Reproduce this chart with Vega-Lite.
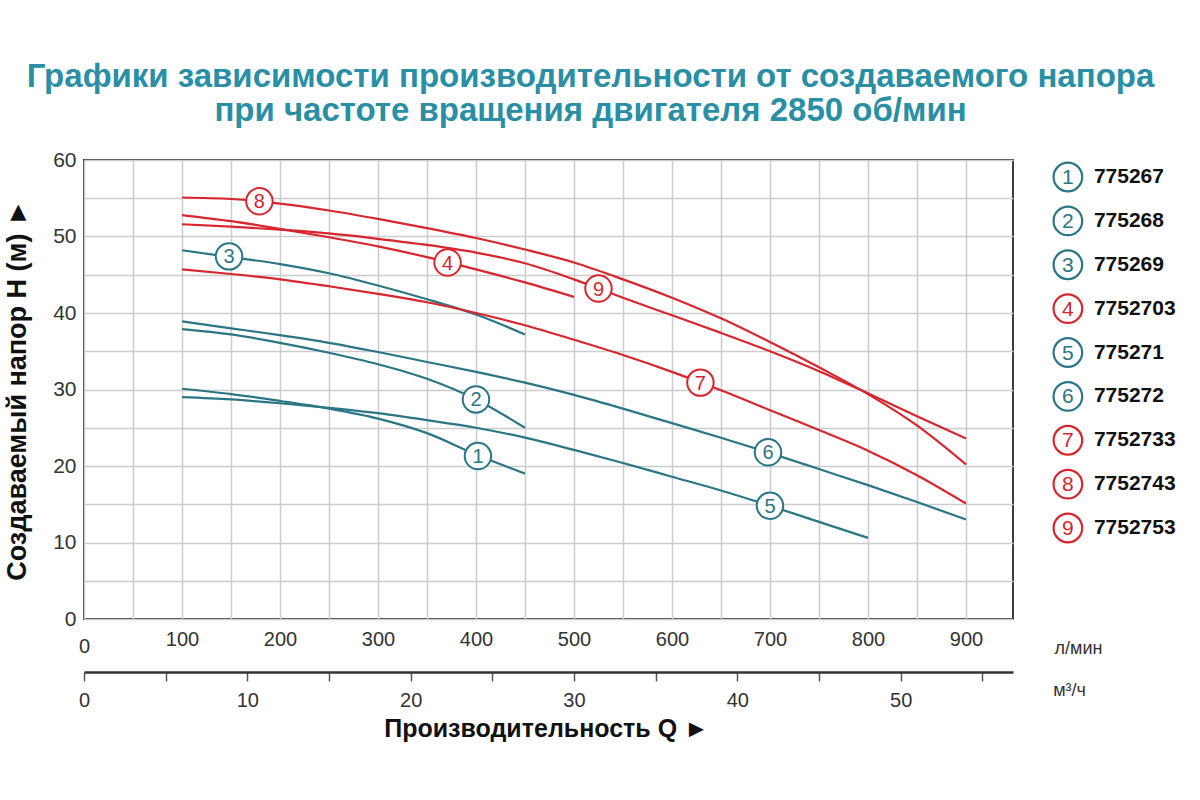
{
  "$schema": "https://vega.github.io/schema/vega-lite/v6.json",
  "width": 929,
  "height": 459,
  "autosize": {"type": "none"},
  "padding": {"left": 84, "top": 160, "right": 187, "bottom": 181},
  "background": "white",
  "title": {
    "text": ["Графики зависимости производительности от создаваемого напора", "при частоте вращения двигателя 2850 об/мин"],
    "anchor": "middle",
    "dx": 42,
    "offset": 21,
    "font": "Liberation Sans",
    "fontSize": 33,
    "fontWeight": "bold",
    "color": "#2a8fa5",
    "lineHeight": 34
  },
  "config": {
    "view": {"stroke": "#3c3c3c", "strokeWidth": 2},
    "axis": {
      "labelFont": "Liberation Sans",
      "titleFont": "Liberation Sans",
      "labelColor": "#333333",
      "titleColor": "#111111",
      "gridColor": "#cccccc",
      "gridWidth": 1.5,
      "domain": false,
      "ticks": false,
      "labelFlush": false
    }
  },
  "datasets": {
    "curves": [
      {"n": "1", "q": 100, "h": 30.1}, {"n": "1", "q": 150, "h": 29.4}, {"n": "1", "q": 200, "h": 28.5}, {"n": "1", "q": 250, "h": 27.5}, {"n": "1", "q": 300, "h": 26.2}, {"n": "1", "q": 350, "h": 24.3}, {"n": "1", "q": 400, "h": 21.5}, {"n": "1", "q": 450, "h": 19.0},
      {"n": "2", "q": 100, "h": 37.9}, {"n": "2", "q": 150, "h": 37.2}, {"n": "2", "q": 200, "h": 36.1}, {"n": "2", "q": 250, "h": 34.8}, {"n": "2", "q": 300, "h": 33.3}, {"n": "2", "q": 350, "h": 31.4}, {"n": "2", "q": 400, "h": 28.7}, {"n": "2", "q": 450, "h": 25.0},
      {"n": "3", "q": 100, "h": 48.2}, {"n": "3", "q": 150, "h": 47.3}, {"n": "3", "q": 200, "h": 46.4}, {"n": "3", "q": 250, "h": 45.2}, {"n": "3", "q": 300, "h": 43.6}, {"n": "3", "q": 350, "h": 41.8}, {"n": "3", "q": 400, "h": 39.8}, {"n": "3", "q": 450, "h": 37.2},
      {"n": "4", "q": 100, "h": 52.8}, {"n": "4", "q": 150, "h": 52.0}, {"n": "4", "q": 200, "h": 51.0}, {"n": "4", "q": 250, "h": 49.9}, {"n": "4", "q": 300, "h": 48.7}, {"n": "4", "q": 350, "h": 47.3}, {"n": "4", "q": 400, "h": 45.7}, {"n": "4", "q": 450, "h": 44.0}, {"n": "4", "q": 500, "h": 42.1},
      {"n": "5", "q": 100, "h": 29.0}, {"n": "5", "q": 150, "h": 28.7}, {"n": "5", "q": 200, "h": 28.2}, {"n": "5", "q": 250, "h": 27.6}, {"n": "5", "q": 300, "h": 26.9}, {"n": "5", "q": 350, "h": 26.0}, {"n": "5", "q": 400, "h": 25.0}, {"n": "5", "q": 450, "h": 23.7}, {"n": "5", "q": 500, "h": 22.1}, {"n": "5", "q": 550, "h": 20.4}, {"n": "5", "q": 600, "h": 18.6}, {"n": "5", "q": 650, "h": 16.8}, {"n": "5", "q": 700, "h": 14.8}, {"n": "5", "q": 750, "h": 12.7}, {"n": "5", "q": 800, "h": 10.6},
      {"n": "6", "q": 100, "h": 38.9}, {"n": "6", "q": 150, "h": 38.0}, {"n": "6", "q": 200, "h": 37.1}, {"n": "6", "q": 250, "h": 36.1}, {"n": "6", "q": 300, "h": 34.9}, {"n": "6", "q": 350, "h": 33.6}, {"n": "6", "q": 400, "h": 32.3}, {"n": "6", "q": 450, "h": 30.9}, {"n": "6", "q": 500, "h": 29.3}, {"n": "6", "q": 550, "h": 27.5}, {"n": "6", "q": 600, "h": 25.6}, {"n": "6", "q": 650, "h": 23.7}, {"n": "6", "q": 700, "h": 21.7}, {"n": "6", "q": 750, "h": 19.6}, {"n": "6", "q": 800, "h": 17.5}, {"n": "6", "q": 850, "h": 15.3}, {"n": "6", "q": 900, "h": 13.0},
      {"n": "7", "q": 100, "h": 45.7}, {"n": "7", "q": 150, "h": 45.1}, {"n": "7", "q": 200, "h": 44.4}, {"n": "7", "q": 250, "h": 43.5}, {"n": "7", "q": 300, "h": 42.5}, {"n": "7", "q": 350, "h": 41.4}, {"n": "7", "q": 400, "h": 40.0}, {"n": "7", "q": 450, "h": 38.4}, {"n": "7", "q": 500, "h": 36.5}, {"n": "7", "q": 550, "h": 34.5}, {"n": "7", "q": 600, "h": 32.3}, {"n": "7", "q": 650, "h": 29.9}, {"n": "7", "q": 700, "h": 27.3}, {"n": "7", "q": 750, "h": 24.7}, {"n": "7", "q": 800, "h": 22.0}, {"n": "7", "q": 850, "h": 18.8}, {"n": "7", "q": 900, "h": 15.1},
      {"n": "8", "q": 100, "h": 55.1}, {"n": "8", "q": 150, "h": 54.9}, {"n": "8", "q": 200, "h": 54.3}, {"n": "8", "q": 250, "h": 53.4}, {"n": "8", "q": 300, "h": 52.3}, {"n": "8", "q": 350, "h": 51.1}, {"n": "8", "q": 400, "h": 49.8}, {"n": "8", "q": 450, "h": 48.3}, {"n": "8", "q": 500, "h": 46.6}, {"n": "8", "q": 550, "h": 44.4}, {"n": "8", "q": 600, "h": 42.0}, {"n": "8", "q": 650, "h": 39.3}, {"n": "8", "q": 700, "h": 36.2}, {"n": "8", "q": 750, "h": 32.9}, {"n": "8", "q": 800, "h": 29.4}, {"n": "8", "q": 850, "h": 25.3}, {"n": "8", "q": 900, "h": 20.2},
      {"n": "9", "q": 100, "h": 51.6}, {"n": "9", "q": 150, "h": 51.3}, {"n": "9", "q": 200, "h": 50.9}, {"n": "9", "q": 250, "h": 50.4}, {"n": "9", "q": 300, "h": 49.7}, {"n": "9", "q": 350, "h": 48.9}, {"n": "9", "q": 400, "h": 47.9}, {"n": "9", "q": 450, "h": 46.5}, {"n": "9", "q": 500, "h": 44.4}, {"n": "9", "q": 550, "h": 42.0}, {"n": "9", "q": 600, "h": 39.7}, {"n": "9", "q": 650, "h": 37.4}, {"n": "9", "q": 700, "h": 35.0}, {"n": "9", "q": 750, "h": 32.4}, {"n": "9", "q": 800, "h": 29.5}, {"n": "9", "q": 850, "h": 26.5}, {"n": "9", "q": 900, "h": 23.6}
    ],
    "labels": [
      {"n": "1", "q": 402, "h": 21.3},
      {"n": "2", "q": 400, "h": 28.7},
      {"n": "3", "q": 148, "h": 47.4},
      {"n": "4", "q": 371, "h": 46.6},
      {"n": "5", "q": 700, "h": 14.8},
      {"n": "6", "q": 698, "h": 21.8},
      {"n": "7", "q": 629, "h": 30.9},
      {"n": "8", "q": 179, "h": 54.6},
      {"n": "9", "q": 525, "h": 43.2}
    ],
    "legend": [
      {"n": "1", "code": "775267"},
      {"n": "2", "code": "775268"},
      {"n": "3", "code": "775269"},
      {"n": "4", "code": "7752703"},
      {"n": "5", "code": "775271"},
      {"n": "6", "code": "775272"},
      {"n": "7", "code": "7752733"},
      {"n": "8", "code": "7752743"},
      {"n": "9", "code": "7752753"}
    ],
    "m3h": [{"m3h": 0}, {"m3h": 56.88}]
  },
  "resolve": {"scale": {"x": "independent", "y": "independent"}},
  "layer": [
    {
      "encoding": {
        "x": {
          "field": "q", "type": "quantitative",
          "scale": {"domain": [0, 948], "nice": false, "zero": false},
          "axis": {
            "orient": "bottom",
            "values": [0, 50, 100, 150, 200, 250, 300, 350, 400, 450, 500, 550, 600, 650, 700, 750, 800, 850, 900],
            "labelExpr": "datum.value % 100 == 0 ? datum.label : ''",
            "labelFontSize": 20,
            "labelPadding": {"condition": {"test": "datum.value == 0", "value": 17}, "value": 10},
            "grid": true,
            "title": "л/мин",
            "titleFontSize": 18,
            "titleFontWeight": "normal",
            "titleColor": "#333333",
            "titleX": 994,
            "titleY": 29,
            "titleAlign": "center",
            "titleBaseline": "middle"
          }
        },
        "y": {
          "field": "h", "type": "quantitative",
          "scale": {"domain": [0, 60], "nice": false},
          "axis": {
            "orient": "left",
            "values": [0, 5, 10, 15, 20, 25, 30, 35, 40, 45, 50, 55, 60],
            "labelExpr": "datum.value % 10 == 0 ? datum.label : ''",
            "labelFontSize": 21,
            "labelPadding": 8,
            "grid": true,
            "title": "Создаваемый напор H (м) ►",
            "titleFontSize": 27,
            "titleFontWeight": "bold",
            "titleX": -67,
            "titleY": 229.5,
            "titleBaseline": "middle",
            "titleAlign": "center"
          }
        }
      },
      "layer": [
        {
          "data": {"name": "curves"},
          "mark": {"type": "line", "interpolate": "monotone", "strokeWidth": 2.2},
          "encoding": {
            "color": {
              "field": "n", "type": "nominal",
              "scale": {"domain": ["1", "2", "3", "4", "5", "6", "7", "8", "9"], "range": ["#2b7685", "#2b7685", "#2b7685", "#d8262e", "#2b7685", "#2b7685", "#d8262e", "#d8262e", "#d8262e"]},
              "legend": null
            }
          }
        },
        {
          "data": {"name": "labels"},
          "mark": {"type": "point", "shape": "circle", "fill": "white", "fillOpacity": 1, "opacity": 1, "size": 700, "strokeWidth": 2},
          "encoding": {
            "stroke": {
              "field": "n", "type": "nominal",
              "scale": {"domain": ["1", "2", "3", "4", "5", "6", "7", "8", "9"], "range": ["#2b7685", "#2b7685", "#2b7685", "#d8262e", "#2b7685", "#2b7685", "#d8262e", "#d8262e", "#d8262e"]},
              "legend": null
            }
          }
        },
        {
          "data": {"name": "labels"},
          "mark": {"type": "text", "font": "Liberation Sans", "fontSize": 20, "baseline": "middle", "align": "center", "dy": 1},
          "encoding": {
            "text": {"field": "n"},
            "color": {
              "field": "n", "type": "nominal",
              "scale": {"domain": ["1", "2", "3", "4", "5", "6", "7", "8", "9"], "range": ["#2b7685", "#2b7685", "#2b7685", "#d8262e", "#2b7685", "#2b7685", "#d8262e", "#d8262e", "#d8262e"]},
              "legend": null
            }
          }
        }
      ]
    },
    {
      "data": {"name": "legend"},
      "encoding": {
        "x": {"datum": 1004, "type": "quantitative", "scale": {"domain": [0, 948], "nice": false, "zero": false}, "axis": null},
        "y": {"field": "n", "type": "ordinal", "scale": {"type": "point", "range": [17, 368], "padding": 0}, "axis": null}
      },
      "layer": [
        {
          "mark": {"type": "point", "shape": "circle", "fill": "white", "fillOpacity": 1, "opacity": 1, "size": 820, "strokeWidth": 2.2},
          "encoding": {
            "stroke": {
              "field": "n", "type": "nominal",
              "scale": {"domain": ["1", "2", "3", "4", "5", "6", "7", "8", "9"], "range": ["#2b7685", "#2b7685", "#2b7685", "#d8262e", "#2b7685", "#2b7685", "#d8262e", "#d8262e", "#d8262e"]},
              "legend": null
            }
          }
        },
        {
          "mark": {"type": "text", "font": "Liberation Sans", "fontSize": 21, "baseline": "middle", "align": "center", "dy": 1},
          "encoding": {
            "text": {"field": "n"},
            "color": {
              "field": "n", "type": "nominal",
              "scale": {"domain": ["1", "2", "3", "4", "5", "6", "7", "8", "9"], "range": ["#2b7685", "#2b7685", "#2b7685", "#d8262e", "#2b7685", "#2b7685", "#d8262e", "#d8262e", "#d8262e"]},
              "legend": null
            }
          }
        },
        {
          "mark": {"type": "text", "font": "Liberation Sans", "fontSize": 21, "fontWeight": "bold", "baseline": "middle", "align": "left", "dx": 26, "color": "#111111"},
          "encoding": {"text": {"field": "code"}}
        }
      ]
    },
    {
      "data": {"name": "m3h"},
      "mark": {"type": "rule", "opacity": 0},
      "encoding": {
        "x": {
          "field": "m3h", "type": "quantitative",
          "scale": {"domain": [0, 56.88], "nice": false, "zero": false},
          "axis": {
            "orient": "bottom",
            "offset": 53,
            "values": [0, 5, 10, 15, 20, 25, 30, 35, 40, 45, 50, 55],
            "labelExpr": "datum.value % 10 == 0 ? datum.label : ''",
            "labelFontSize": 20,
            "labelPadding": 9,
            "grid": false,
            "domain": true,
            "domainColor": "#333333",
            "domainWidth": 2.5,
            "ticks": true,
            "tickSize": 9,
            "tickWidth": 1.5,
            "tickColor": "#555555",
            "title": "Производительность Q ►",
            "titleFontSize": 25,
            "titleFontWeight": "bold",
            "titleX": 462,
            "titleY": 56,
            "titleAlign": "center",
            "titleBaseline": "middle"
          }
        }
      }
    },
    {
      "data": {"name": "m3h"},
      "mark": {"type": "rule", "opacity": 0},
      "encoding": {
        "x": {
          "field": "m3h", "type": "quantitative",
          "scale": {"domain": [0, 56.88], "nice": false, "zero": false},
          "axis": {
            "orient": "bottom",
            "offset": 53,
            "values": [],
            "labels": false,
            "grid": false,
            "domain": false,
            "ticks": false,
            "title": "м³/ч",
            "titleFontSize": 18,
            "titleFontWeight": "normal",
            "titleColor": "#333333",
            "titleX": 985,
            "titleY": 18,
            "titleAlign": "center",
            "titleBaseline": "middle"
          }
        }
      }
    }
  ]
}
